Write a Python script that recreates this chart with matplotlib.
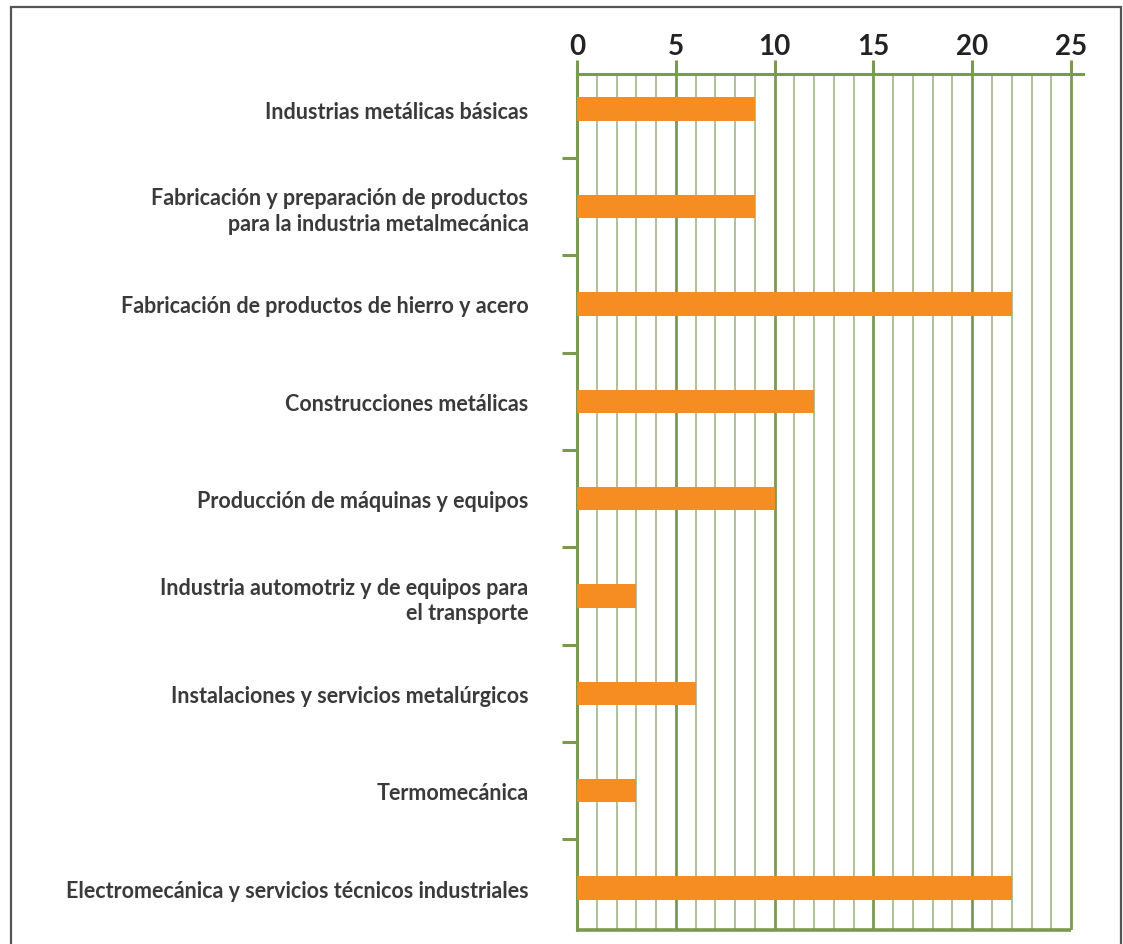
import numpy as np
import matplotlib.pyplot as plt
from matplotlib.patches import Rectangle

categories = [
    "Industrias metálicas básicas",
    "Fabricación y preparación de productos\npara la industria metalmecánica",
    "Fabricación de productos de hierro y acero",
    "Construcciones metálicas",
    "Producción de máquinas y equipos",
    "Industria automotriz y de equipos para\nel transporte",
    "Instalaciones y servicios metalúrgicos",
    "Termomecánica",
    "Electromecánica y servicios técnicos industriales",
]
values = [9, 9, 22, 12, 10, 3, 6, 3, 22]
x_ticks = [0, 5, 10, 15, 20, 25]

GREEN = "#7a9a50"
GREEN_LIGHT = "#98b07a"
ORANGE = "#f58d22"
TEXT = "#3a3a3a"

plt.rcParams['font.family'] = ['Lato', 'DejaVu Sans']

fig = plt.figure(figsize=(11.23, 9.45), dpi=100)
ax = fig.add_axes([0.5138, 0.0148, 0.4505, 0.9058])

ys = np.arange(len(categories))
ax.barh(ys, values, height=0.24, color=ORANGE, zorder=3)

ax.set_xlim(0, 25.6)
ax.set_ylim(8.43, -0.36)

# grid: thin every 1, thick every 5
for v in range(1, 25):
    if v % 5:
        ax.axvline(v, color=GREEN_LIGHT, lw=1.1, zorder=1)
for v in x_ticks[1:]:
    ax.axvline(v, color=GREEN, lw=2.0, zorder=1)

ax.xaxis.tick_top()
ax.set_xticks(x_ticks)
ax.set_xticklabels([str(t) for t in x_ticks], fontsize=20, fontweight='bold', color="#222222")
ax.tick_params(axis='x', direction='out', length=10, width=2.2, color=GREEN, pad=1)

ax.set_yticks(ys)
ax.set_yticklabels(categories, fontsize=15.5, fontweight='bold', color=TEXT, linespacing=1.25)
ax.set_yticks(ys[:-1] + 0.5, minor=True)
ax.tick_params(axis='y', which='major', length=0, pad=35)
ax.tick_params(axis='y', which='minor', direction='out', length=11, width=2.2, color=GREEN)

for s in ['right', 'bottom']:
    ax.spines[s].set_visible(False)
for s in ['top', 'left']:
    ax.spines[s].set_color(GREEN)
    ax.spines[s].set_linewidth(2.2)
ax.hlines(8.43, 0, 25, color=GREEN, lw=2.6, clip_on=False, zorder=4)

fig.patches.append(Rectangle((0.0098, -0.05), 0.988, 1.0415, transform=fig.transFigure,
                             fill=False, edgecolor="#555555", lw=1.6))

fig.savefig("out.png", dpi=100)
